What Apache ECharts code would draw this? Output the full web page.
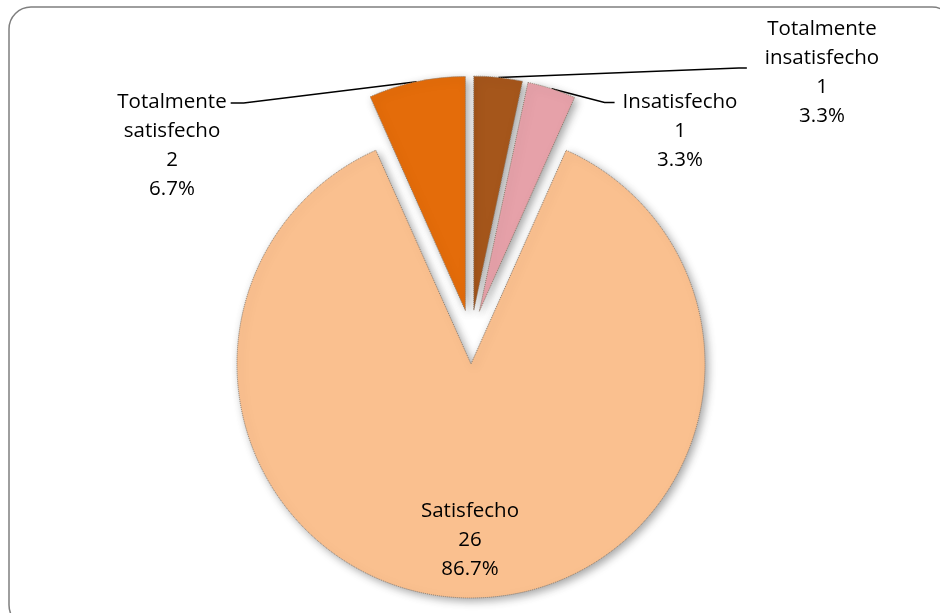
<!DOCTYPE html>
<html>
<head>
<meta charset="utf-8">
<script src="https://cdn.jsdelivr.net/npm/echarts@6/dist/echarts.min.js"></script>
<style>
html,body{margin:0;padding:0;background:#fff;}
#chart{width:940px;height:613px;}
</style>
</head>
<body>
<div id="chart"></div>
<script>
const categories = ['Totalmente insatisfecho', 'Insatisfecho', 'Satisfecho', 'Totalmente satisfecho'];
const counts = [1, 1, 26, 2];
const colors = ['#A5561B', '#E6A1A9', '#FAC08F', '#E46C0A'];

// layout constants
const CX = 471, CY = 337, R = 234, OFFSET = 27, LH = 29;
// label placement: centre of label block, which side the leader attaches to,
// vertical offset of the attach point from block top, gap to text, horizontal segment
const labelSpots = {
  0: { x: 822, y: 73, side: 'left', dy: 53, gap: 18, seg: 8 },
  1: { x: 680, y: 131, side: 'left', dy: 15, gap: 8, seg: 10 },
  2: { x: 470, y: 540 },
  3: { x: 172, y: 146, side: 'right', dy: 15, gap: 4, seg: 13 }
};

const total = counts.reduce((a, b) => a + b, 0);
function midAngle(i) {
  let cum = 0;
  for (let k = 0; k < i; k++) cum += counts[k];
  return (cum + counts[i] / 2) / total * Math.PI * 2; // clockwise from 12 o'clock
}

const chart = echarts.init(document.getElementById('chart'), null, { renderer: 'canvas' });

const sliceData = categories.map((name, i) => ({
  name: name,
  value: counts[i],
  selected: true,
  itemStyle: { color: colors[i] }
}));

const labelData = categories.map((name, i) => {
  const inside = name === 'Satisfecho';
  return {
    name: name,
    value: counts[i],
    label: { position: inside ? 'inside' : 'outside' },
    labelLine: { show: !inside }
  };
});

chart.setOption({
  animation: false,
  backgroundColor: '#ffffff',
  graphic: [{
    type: 'rect',
    shape: { x: 9, y: 7, width: 945, height: 620, r: 22 },
    style: { fill: 'none', stroke: '#7f7f7f', lineWidth: 1.5 },
    z: 0
  }],
  series: [{
    type: 'pie',
    center: [CX, CY],
    radius: R,
    startAngle: 90,
    clockwise: true,
    selectedMode: 'multiple',
    selectedOffset: OFFSET,
    silent: true,
    emphasis: { disabled: true },
    label: { show: false },
    labelLine: { show: false },
    itemStyle: {
      borderColor: '#8c7b6b',
      borderWidth: 1,
      borderType: 'dotted',
      shadowBlur: 8,
      shadowColor: 'rgba(0,0,0,0.35)',
      shadowOffsetX: 3,
      shadowOffsetY: 3
    },
    data: sliceData
  }, {
    type: 'pie',
    center: [CX, CY],
    radius: R + OFFSET,
    startAngle: 90,
    clockwise: true,
    silent: true,
    percentPrecision: 1,
    avoidLabelOverlap: false,
    emphasis: { disabled: true },
    itemStyle: { color: 'rgba(0,0,0,0)', borderWidth: 0 },
    label: {
      show: true,
      color: '#000000',
      fontFamily: 'Open Sans',
      fontSize: 20.5,
      lineHeight: LH,
      align: 'center',
      formatter: function (p) {
        return p.name.replace(' ', '\n') + '\n' + p.value + '\n' + p.percent.toFixed(1) + '%';
      }
    },
    labelLine: {
      show: true,
      smooth: false,
      lineStyle: { color: '#000000', width: 1.5 }
    },
    labelLayout: function (params) {
      const i = params.dataIndex;
      const s = labelSpots[i];
      const out = { x: s.x, y: s.y, align: 'center', verticalAlign: 'middle', moveOverlap: false };
      if (s.side) {
        const w = params.labelRect.width, h = params.labelRect.height;
        const top = s.y - h / 2;
        const a = midAngle(i);
        const start = [CX + (R + OFFSET) * Math.sin(a), CY - (R + OFFSET) * Math.cos(a)];
        let end, bend;
        if (s.side === 'left') {
          end = [s.x - w / 2 - s.gap, top + s.dy];
          bend = [end[0] - s.seg, end[1]];
        } else {
          end = [s.x + w / 2 + s.gap, top + s.dy];
          bend = [end[0] + s.seg, end[1]];
        }
        out.labelLinePoints = [start, bend, end];
      }
      return out;
    },
    data: labelData
  }]
});
</script>
</body>
</html>
